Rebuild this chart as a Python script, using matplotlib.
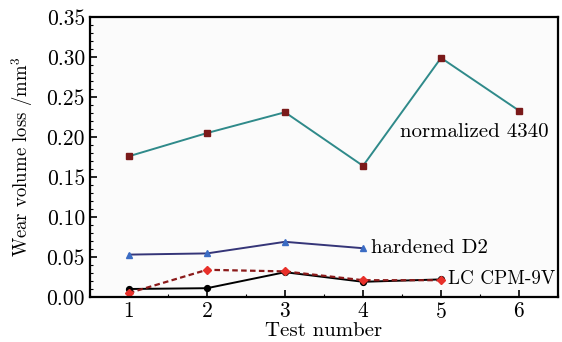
import matplotlib.pyplot as plt
from matplotlib.ticker import MultipleLocator, FormatStrFormatter

plt.rcParams["font.family"] = "cmr10"
plt.rcParams["mathtext.fontset"] = "cm"
plt.rcParams["axes.formatter.use_mathtext"] = True

tests = [1, 2, 3, 4, 5, 6]
norm_4340 = [0.176, 0.205, 0.231, 0.164, 0.299, 0.233]
tests_d2 = [1, 2, 3, 4]
hard_d2 = [0.053, 0.0545, 0.069, 0.061]
tests_lc = [1, 2, 3, 4, 5]
lc_black = [0.010, 0.011, 0.031, 0.019, 0.022]
lc_red = [0.005, 0.034, 0.032, 0.021, 0.021]

fig = plt.figure(figsize=(5.62, 3.42), dpi=100)
ax = fig.add_axes([0.160, 0.1316, 0.833, 0.8184])
ax.set_facecolor("#fbfbfb")

ax.plot(tests, norm_4340, color="#2f8a8a", linewidth=1.4,
        marker="s", markersize=4.2, markerfacecolor="#7a1a1a",
        markeredgecolor="#7a1a1a")
ax.plot(tests_d2, hard_d2, color="#353578", linewidth=1.4,
        marker="^", markersize=4.2, markerfacecolor="#3b6cc4",
        markeredgecolor="#3b6cc4")
ax.plot(tests_lc, lc_black, color="black", linewidth=1.4,
        marker="o", markersize=4.2)
ax.plot(tests_lc, lc_red, color="#8b1a1a", linewidth=1.6, linestyle=(0, (2.5, 1.5)),
        marker="D", markersize=3.6, markerfacecolor="#e8302a",
        markeredgecolor="#e8302a")

ax.text(4.47, 0.206, "normalized 4340", fontsize=15, va="center", ha="left")
ax.text(4.10, 0.061, "hardened D2", fontsize=15, va="center", ha="left")
ax.text(5.09, 0.0225, "LC CPM-9V", fontsize=13.8, va="center", ha="left")

ax.set_xlim(0.5, 6.5)
ax.set_ylim(0, 0.35)
ax.xaxis.set_major_locator(MultipleLocator(1))
ax.xaxis.set_minor_locator(MultipleLocator(0.5))
ax.yaxis.set_major_locator(MultipleLocator(0.05))
ax.yaxis.set_minor_locator(MultipleLocator(0.01))
ax.yaxis.set_major_formatter(FormatStrFormatter("%.2f"))
ax.tick_params(which="both", direction="in", top=False, right=False)
ax.tick_params(which="major", length=5, width=1.2, labelsize=15.5)
ax.tick_params(which="minor", length=2.5, width=0.8)
for s in ax.spines.values():
    s.set_linewidth(1.6)

ax.set_xlabel("Test number", fontsize=15, labelpad=0)
ax.set_ylabel("Wear volume loss /mm$^3$", fontsize=13.5, labelpad=8)

fig.savefig("out.png", dpi=100)
